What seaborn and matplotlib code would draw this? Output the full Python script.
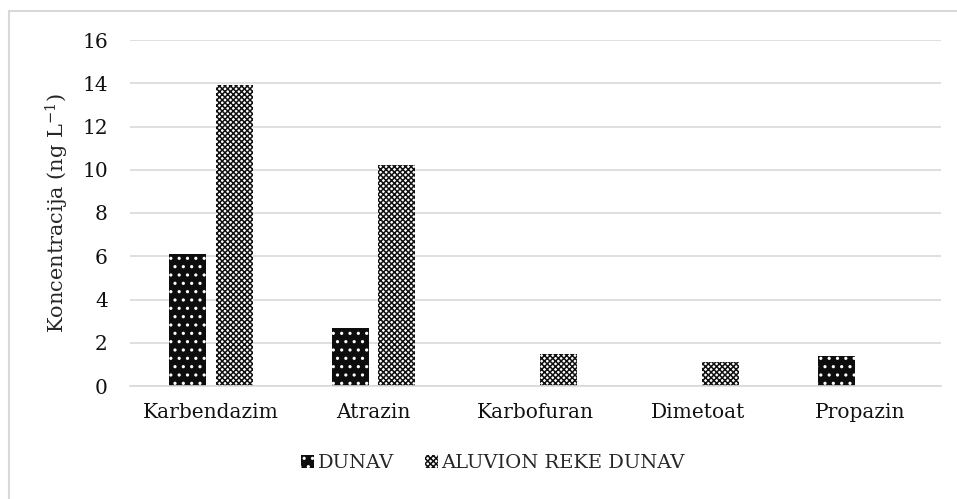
import pandas as pd
import seaborn as sns
import matplotlib.pyplot as plt
from matplotlib.patches import Patch, Rectangle

# podaci
kategorije = ["Karbendazim", "Atrazin", "Karbofuran", "Dimetoat", "Propazin"]
dunav = [6.1, 2.7, 0, 0, 1.4]
aluvion = [13.9, 10.2, 1.5, 1.1, 0]
serije = ["DUNAV", "ALUVION REKE DUNAV"]

tabela = pd.DataFrame({
    "Kategorija": kategorije * 2,
    "Vrednost": dunav + aluvion,
    "Serija": [serije[0]] * len(kategorije) + [serije[1]] * len(kategorije),
})

sns.set_style("white")
plt.rcParams["font.family"] = ["DejaVu Serif"]
plt.rcParams["mathtext.default"] = "regular"
plt.rcParams["hatch.linewidth"] = 1.1

fig = plt.figure(figsize=(9.57, 4.99), dpi=100)
ax = fig.add_axes([130 / 957, 1 - 386 / 499, (941 - 130) / 957, (386 - 40) / 499])

sns.barplot(data=tabela, x="Kategorija", y="Vrednost", hue="Serija",
            hue_order=serije, order=kategorije, width=0.57, gap=0.2,
            legend=False, ax=ax)

stil = [
    dict(facecolor="#0d0d0d", edgecolor="white", hatch=".."),
    dict(facecolor="white", edgecolor="#111111", hatch="xxxxxx"),
]
for cont, s in zip(ax.containers, stil):
    for bar in cont:
        bar.set_facecolor(s["facecolor"])
        bar.set_edgecolor(s["edgecolor"])
        bar.set_hatch(s["hatch"])
        bar.set_linewidth(0)

ax.set_ylim(0, 16)
ax.set_yticks(range(0, 17, 2))
ax.yaxis.grid(True, color="#d9d9d9", linewidth=1.2)
ax.set_axisbelow(True)
for sp in ["top", "right", "left"]:
    ax.spines[sp].set_visible(False)
ax.spines["bottom"].set_color("#d9d9d9")
ax.spines["bottom"].set_linewidth(1.2)
ax.tick_params(axis="both", length=0, labelsize=14.5, colors="#111111")
ax.tick_params(axis="x", pad=12)
ax.tick_params(axis="y", pad=16)
ax.set_xlabel("")
ax.set_ylabel("Koncentracija (ng L$^{-1}$)", fontsize=15, labelpad=8)

hendlovi = [Patch(facecolor=s["facecolor"], edgecolor=s["edgecolor"], hatch=s["hatch"], linewidth=0, label=l)
            for s, l in zip(stil, serije)]
fig.legend(handles=hendlovi, loc="center", bbox_to_anchor=(493 / 957, 1 - 463 / 499), ncol=2,
           frameon=False, fontsize=14, handlelength=0.65, handleheight=0.65,
           handletextpad=0.2, columnspacing=1.6)

# okvir grafikona
fig.patches.append(Rectangle((9 / 957, -0.05), 1.1, 1 - 11 / 499 + 0.05, transform=fig.transFigure,
                             fill=False, edgecolor="#d9d9d9", linewidth=1.5))

plt.savefig("out.png", dpi=100)
